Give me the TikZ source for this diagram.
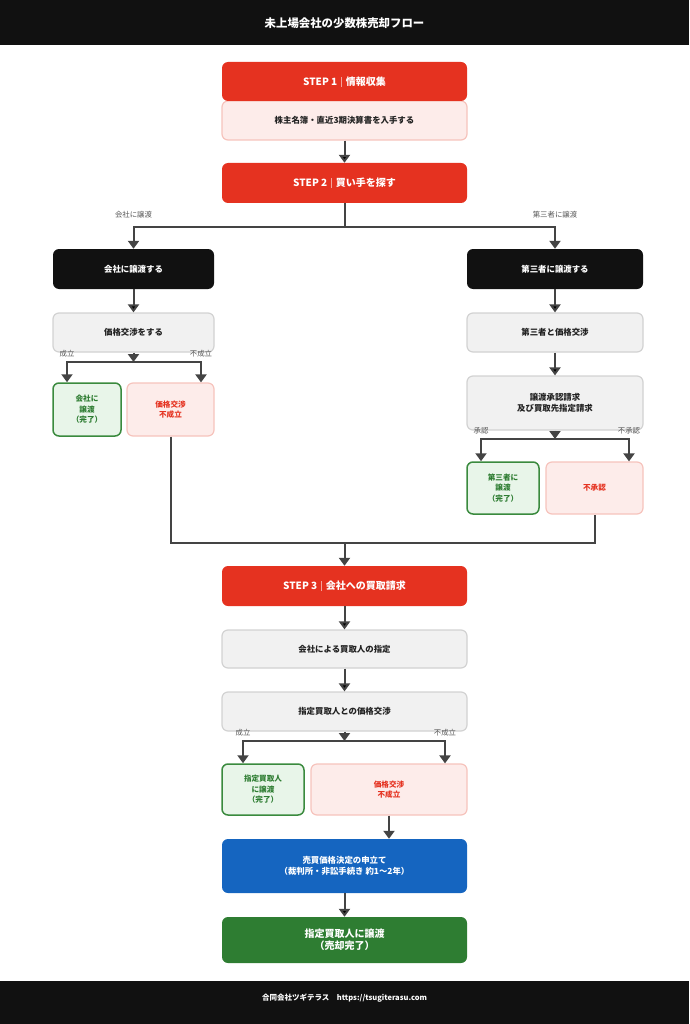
\documentclass[tikz,border=0pt]{standalone}
\usepackage{fontspec}
\setmainfont{Noto Sans CJK JP}
\usetikzlibrary{arrows.meta}

\definecolor{stepred}{HTML}{E53220}
\definecolor{inkgray}{HTML}{444444}
\definecolor{textdark}{HTML}{222222}
\definecolor{boxgray}{HTML}{F1F1F1}
\definecolor{linegray}{HTML}{D2D2D2}
\definecolor{pinkfill}{HTML}{FDECEA}
\definecolor{pinkline}{HTML}{F6C3BC}
\definecolor{greenfill}{HTML}{E8F5E9}
\definecolor{greenline}{HTML}{3A8A3E}
\definecolor{bluefill}{HTML}{1565C0}
\definecolor{darkgreen}{HTML}{2E7D32}
\definecolor{barblack}{HTML}{111111}

\newcommand{\stepsep}{\hspace{4pt}\textcolor{white!55!stepred}{\rule[-1.5pt]{0.6pt}{10pt}}\hspace{4pt}}

\begin{document}
\begin{tikzpicture}[x=1pt,y=-1pt,>={Triangle[width=11pt,length=8pt]},
    flow/.style={->,draw=inkgray,line width=2pt},
    wire/.style={draw=inkgray,line width=2pt},
    base node/.style={rounded corners=6pt,align=center,inner sep=0pt,
      font=\bfseries\fontsize{8.4}{10.7}\selectfont},
    step node/.style={base node,fill=stepred,text=white,minimum width=245pt,
      minimum height=40pt,font=\bfseries\fontsize{10}{12}\selectfont},
    info node/.style={base node,fill=pinkfill,draw=pinkline,line width=1.2pt,text=textdark},
    black node/.style={base node,fill=barblack,text=white},
    gray node/.style={base node,fill=boxgray,draw=linegray,line width=1.2pt,text=textdark},
    done node/.style={base node,fill=greenfill,draw=greenline,line width=1.5pt,text=darkgreen,
      font=\bfseries\fontsize{7.6}{10.6}\selectfont},
    fail node/.style={base node,fill=pinkfill,draw=pinkline,line width=1.2pt,text=stepred,
      font=\bfseries\fontsize{7.6}{10.4}\selectfont},
    tag/.style={inner sep=0pt,text=inkgray!90,font=\fontsize{7.4}{8}\selectfont}]
  \useasboundingbox (0,0) rectangle (689,1024);

  % header and footer
  \fill[barblack] (0,0) rectangle (689,45);
  \node[text=white,font=\bfseries\fontsize{11.4}{13}\selectfont] (title) at (344.5,23) {未上場会社の少数株売却フロー};
  \fill[barblack] (0,981) rectangle (689,1024);
  \node[text=white,font=\bfseries\fontsize{7.5}{9}\selectfont] (foot) at (344.5,998) {合同会社ツギテラス\quad https://tsugiterasu.com};

  % step 1, 2
  \node[info node,minimum width=245pt,minimum height=39pt] (info) at (344.5,120.5) {株主名簿・直近3期決算書を入手する};
  \node[step node,minimum height=39pt] (step1) at (344.5,81.5) {STEP 1\stepsep 情報収集};
  \node[step node] (step2) at (344.5,183) {STEP 2\stepsep 買い手を探す};

  % left: company
  \node[black node,minimum width=161pt,minimum height=40pt] (cbox) at (133.5,269) {会社に譲渡する};
  \node[gray node,minimum width=161pt,minimum height=39pt] (nego) at (133.5,332.5) {価格交渉をする};
  \node[done node,minimum width=68pt,minimum height=53pt] (okA) at (87,409.5) {会社に\\譲渡\\（完了）};
  \node[fail node,minimum width=87pt,minimum height=53pt] (ngA) at (170.5,409.5) {価格交渉\\不成立};

  % right: third party
  \node[black node,minimum width=176pt,minimum height=40pt] (tbox) at (555,269) {第三者に譲渡する};
  \node[gray node,minimum width=176pt,minimum height=39pt] (tnego) at (555,332.5) {第三者と価格交渉};
  \node[gray node,minimum width=176pt,minimum height=54pt] (req) at (555,403) {譲渡承認請求\\及び買取先指定請求};
  \node[done node,minimum width=72pt,minimum height=52pt] (okB) at (503,488) {第三者に\\譲渡\\（完了）};
  \node[fail node,minimum width=97pt,minimum height=52pt] (ngB) at (594.5,488) {不承認};

  % step 3
  \node[step node] (step3) at (344.5,586) {STEP 3\stepsep 会社への買取請求};
  \node[gray node,minimum width=245pt,minimum height=38pt] (appoint) at (344.5,649) {会社による買取人の指定};
  \node[gray node,minimum width=245pt,minimum height=39pt] (bnego) at (344.5,711.5) {指定買取人との価格交渉};
  \node[done node,minimum width=82pt,minimum height=51pt] (okC) at (263,789.5) {指定買取人\\に譲渡\\（完了）};
  \node[fail node,minimum width=156pt,minimum height=51pt] (ngC) at (389,789.5) {価格交渉\\不成立};
  \node[base node,fill=bluefill,text=white,minimum width=245pt,minimum height=54pt] (court) at (344.5,866)
    {売買価格決定の申立て\\（裁判所・非訟手続き 約1～2年）};
  \node[base node,fill=darkgreen,text=white,minimum width=245pt,minimum height=46pt,
    font=\bfseries\fontsize{10}{12.3}\selectfont] (final) at (344.5,940) {指定買取人に譲渡\\（売却完了）};

  % branch points
  \coordinate (split2) at (344.5,227);
  \coordinate (jA) at (133.5,362);
  \coordinate (jB) at (555,439);
  \coordinate (jC) at (344.5,741);
  \coordinate (merge) at (344.5,543);

  \node[tag] (lblC) at (133.5,215) {会社に譲渡};
  \node[tag] (lblT) at (555,215) {第三者に譲渡};
  \node[tag] (yesA) at (67,354) {成立};
  \node[tag] (noA) at (201,354) {不成立};
  \node[tag] (yesB) at (481,431) {承認};
  \node[tag] (noB) at (629,431) {不承認};
  \node[tag] (yesC) at (243,733) {成立};
  \node[tag] (noC) at (445,733) {不成立};

  \path[flow]
    (info) edge (step2)
    (cbox) edge (nego)
    (tbox) edge (tnego)
    (tnego) edge (req)
    (step3) edge (appoint)
    (appoint) edge (bnego)
    (court) edge (final);

  \draw[wire] (step2) -- (split2);
  \draw[flow] (split2) -| (cbox);
  \draw[flow] (split2) -| (tbox);

  \draw[flow] (nego) -- (jA);
  \draw[flow] (jA) -| (okA.north -| yesA);
  \draw[flow] (jA) -| (ngA.north -| noA);

  \draw[flow] (req) -- (jB);
  \draw[flow] (jB) -| (okB.north -| yesB);
  \draw[flow] (jB) -| (ngB.north -| noB);

  \draw[wire] (ngA) |- (merge) -| (ngB);
  \draw[flow] (merge) -- (step3);

  \draw[flow] (bnego) -- (jC);
  \draw[flow] (jC) -| (okC.north -| yesC);
  \draw[flow] (jC) -| (ngC.north -| noC);
  \draw[flow] (ngC) -- (ngC.south |- court.north);
\end{tikzpicture}
\end{document}
